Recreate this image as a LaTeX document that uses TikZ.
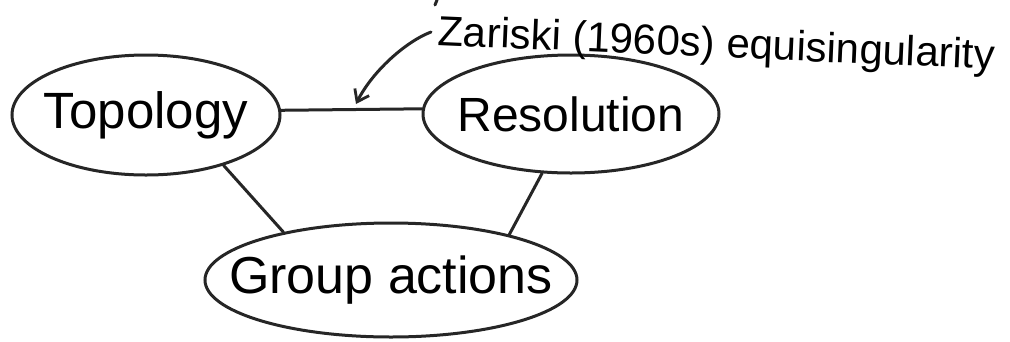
\documentclass[tikz,border=0pt]{standalone}
\usepackage{fontspec}
\setmainfont{Liberation Sans}
\usetikzlibrary{shapes.geometric,arrows.meta}
\tikzset{
  topic/.style={draw=black!85, line width=3pt, ellipse, inner sep=0pt,
    font=\fontsize{48}{56}\selectfont},
  link/.style={draw=black!85, line width=3pt, line cap=round},
  note/.style={font=\fontsize{42}{48}\selectfont, inner sep=0pt},
  pointer/.style={link, -{Straight Barb[length=11pt,width=16pt,line width=2.8pt]}}
}
\newcommand{\lbl}[1]{\makebox[0pt]{#1}}
\begin{document}
\begin{tikzpicture}[x=1pt,y=-1pt]
\useasboundingbox (0,0) rectangle (1010,341);
\node[topic, minimum width=268pt, minimum height=120pt, font=\fontsize{51}{58}\selectfont] (T) at (146,115) {\lbl{Topology}};
\node[topic, minimum width=296pt, minimum height=118pt, font=\fontsize{48}{56}\selectfont] (R) at (571,114) {\lbl{Resolution}};
\node[topic, minimum width=372pt, minimum height=114pt, font=\fontsize{52}{60}\selectfont] (G) at (391,280) {\lbl{Group actions}};
\draw[link] (T.2) -- (R.178);
\draw[link] (T.-33) -- (G.156);
\draw[link] (R.-116) -- (G.21);
\node[note, anchor=base west, rotate=-2.5] (Z) at (437,45) {Zariski (1960s) equisingularity};
\coordinate (zs) at (431,32);
\coordinate (zt) at (356,104);
\draw[pointer] (zs) .. controls (405,42) and (372,72) .. (zt);
\draw[link] (437,0) -- (435,5);
\end{tikzpicture}
\end{document}
